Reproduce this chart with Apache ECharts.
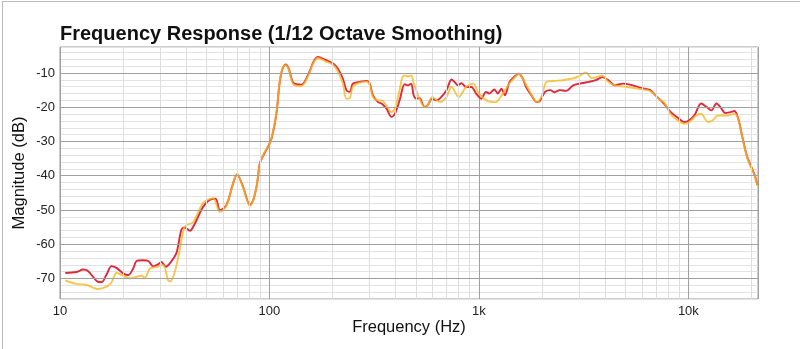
<!DOCTYPE html>
<html>
<head>
<meta charset="utf-8">
<script src="https://cdn.jsdelivr.net/npm/echarts@6/dist/echarts.min.js"></script>
<style>html,body{margin:0;padding:0;background:#fff;}#c{width:800px;height:349px;}</style>
</head>
<body>
<div id="c"></div>
<script>
// ---- data ----
const redFreq = [10.6,12.0,12.9,13.6,15.0,15.8,16.7,17.6,18.6,20.0,21.2,22.4,23.2,24.9,26.4,27.9,29.4,30.5,32.0,34.0,36.0,38.0,39.4,41.7,44.0,48.2,52.8,55.4,58.0,62.3,67.0,70.0,74.9,80.7,83.7,86.9,88.3,89.9,94.5,99.3,102.8,108,111.7,115.5,119.5,123.6,130.1,142,147,155,163,170.6,184,202,212,224,233,242,250,270,291,301,312,330,343,362,382,396,418,442,458,475,488,502,520,550,570,596,625,650,700,740,765,795,825,870,920,970,1025,1080,1120,1185,1230,1280,1330,1400,1480,1550,1620,1680,1780,1890,1950,2070,2190,2300,2430,2610,2820,3030,3350,3610,3880,4130,4460,4880,5260,5770,6220,6580,7090,7640,8240,8870,9570,10100,10700,11500,12200,12900,13600,14200,15000,15900,16600,17300,18100,19100,20600,21400];
const redDb = [-68.4,-68.1,-67.4,-67.8,-70.8,-71.1,-68.8,-66.4,-66.9,-68.5,-69.0,-67.0,-64.9,-64.7,-64.9,-66.5,-65.9,-65.2,-66.6,-65.0,-62.5,-55.7,-55.1,-56.1,-54.0,-49.1,-46.8,-46.7,-50.1,-48.6,-42.3,-39.6,-43.3,-48.6,-47.1,-43.0,-40.0,-36.4,-33.5,-31.1,-28.7,-21.8,-13.1,-8.7,-7.5,-8.7,-12.9,-13.4,-12.6,-9.7,-6.5,-5.3,-6.1,-7.3,-8.7,-11.6,-15.0,-15.5,-13.1,-12.6,-12.3,-13.1,-16.5,-18.5,-18.9,-20.4,-22.8,-22.1,-18.0,-13.3,-13.6,-13.1,-16.5,-17.5,-17.3,-19.9,-19.4,-17.5,-18.0,-17.5,-15.0,-11.9,-12.6,-13.6,-13.0,-14.1,-14.1,-16.0,-17.5,-15.5,-16.0,-14.8,-16.0,-14.6,-16.5,-12.6,-11.0,-10.2,-11.6,-14.1,-16.5,-18.5,-18.2,-15.5,-15.0,-15.6,-15.0,-15.2,-13.6,-13.1,-12.6,-12.1,-11.2,-12.0,-13.6,-13.1,-13.4,-14.1,-14.6,-15.0,-17.0,-18.9,-21.4,-23.0,-24.3,-23.8,-22.3,-18.9,-19.9,-20.9,-18.9,-19.9,-21.7,-21.4,-21.1,-23.3,-28.7,-34.5,-39.4,-42.8];

const yelFreq = [10.6,12.0,13.4,15.2,16.7,17.6,18.6,19.7,21.6,23.2,24.5,25.4,26.9,28.9,31.1,32.8,33.7,35.3,37.3,39.4,43.3,48.2,53.8,58.0,62.3,67.0,70.0,74.9,80.7,83.7,86.9,89.9,94.5,99.3,102.8,108,111.7,115.5,119.5,123.6,130.1,142,147,155,163,170.6,184,202,212,224,233,242,250,270,291,301,312,330,343,362,382,396,418,430,442,458,475,488,502,520,550,570,600,650,700,740,800,870,940,1000,1100,1200,1300,1400,1500,1550,1700,1900,2000,2100,2300,2500,2800,3000,3240,3460,3880,4130,4460,5000,5770,6580,7300,7640,8240,8870,9570,10100,10900,11500,12400,13100,13800,14600,15400,16600,17300,18100,19100,20600,21400];
const yelDb = [-70.6,-71.6,-71.9,-73.1,-72.4,-71.2,-68.4,-69.0,-70.0,-69.5,-69.2,-69.8,-67.1,-66.6,-66.1,-70.5,-70.8,-68.1,-61.7,-54.9,-53.5,-47.9,-46.6,-50.6,-48.8,-42.3,-39.4,-43.5,-48.8,-47.0,-43.0,-36.6,-33.2,-31.3,-28.5,-21.5,-12.8,-8.5,-7.7,-9.0,-13.3,-13.8,-12.9,-10.0,-6.8,-5.6,-6.5,-7.7,-9.5,-13.0,-17.5,-17.3,-14.0,-12.8,-12.5,-13.5,-17.0,-18.0,-18.0,-19.5,-21.4,-20.5,-15.0,-11.5,-10.7,-11.0,-10.7,-13.0,-15.0,-17.5,-19.9,-19.4,-17.0,-18.5,-17.0,-14.0,-17.0,-14.0,-13.1,-16.0,-18.2,-18.5,-16.0,-13.0,-11.0,-10.2,-14.0,-18.5,-16.5,-12.6,-12.3,-12.1,-11.6,-11.0,-9.8,-11.5,-10.7,-12.5,-13.6,-14.0,-14.6,-15.3,-17.8,-18.5,-22.1,-23.8,-24.8,-24.3,-22.4,-21.9,-24.3,-23.8,-22.4,-22.4,-22.4,-21.9,-23.5,-28.9,-34.7,-39.6,-43.0];

const xTickLabels = {10:'10', 100:'100', 1000:'1k', 10000:'10k'};
const gridFreqMinor = [20,30,40,50,60,70,80,90,200,300,400,500,600,700,800,900,2000,3000,4000,5000,6000,7000,8000,9000,20000];
const gridDbMajor = [-70,-60,-50,-40,-30,-20,-10];

const zip = (a,b) => a.map((v,i)=>[v,b[i]]);

const chart = echarts.init(document.getElementById('c'), null, {renderer:'canvas'});
const FONT = '"Liberation Sans", Arial, Helvetica, sans-serif';

const markData = gridFreqMinor.map(v => ({xAxis: v}))
  .concat(gridDbMajor.map(v => ({yAxis: v, lineStyle:{color:'#a0a0a0', width:1, type:'solid'}})));

chart.setOption({
  animation: false,
  backgroundColor: '#fff',
  grid: {left: 60, right: 42, top: 47, bottom: 50, show: true, borderColor: '#9a9a9a', borderWidth: 1, containLabel: false},
  xAxis: {
    type: 'log', logBase: 10, min: 10, max: 21500,
    axisLine: {show: false}, axisTick: {show: false},
    axisLabel: {margin: 6, color: '#222', fontFamily: FONT, fontSize: 13,
      formatter: v => xTickLabels[Math.round(v)] || ''},
    splitLine: {show: true, lineStyle: {color: '#a0a0a0', width: 1}},
    minorSplitLine: {show: false}
  },
  yAxis: {
    type: 'value', min: -76, max: -2.4, interval: 2,
    axisLine: {show: false}, axisTick: {show: false},
    axisLabel: {margin: 5, color: '#222', fontFamily: FONT, fontSize: 13,
      formatter: v => (Math.abs(v % 10) < 1e-6 ? String(v) : '')},
    splitLine: {show: true, lineStyle: {color: '#e2e2e2', width: 1}}
  },
  graphic: [
    {type:'line', shape:{x1:2, y1:1.5, x2:800, y2:1.5}, style:{stroke:'#bbbbbb', lineWidth:1}, silent:true},
    {type:'line', shape:{x1:2.5, y1:1, x2:2.5, y2:349}, style:{stroke:'#bbbbbb', lineWidth:1}, silent:true},
    {type:'text', left: 60, top: 24, style:{text:'Frequency Response (1/12 Octave Smoothing)', font:'bold 20px ' + FONT, fill:'#111'}},
    {type:'text', x: 409, y: 327.5, style:{text:'Frequency (Hz)', font:'16.5px ' + FONT, fill:'#111', textAlign:'center', textVerticalAlign:'middle'}},
    {type:'text', x: 19, y: 173, rotation: Math.PI/2, style:{text:'Magnitude (dB)', font:'16.5px ' + FONT, fill:'#111', textAlign:'center', textVerticalAlign:'middle'}}
  ],
  series: [
    {type:'line', data: [], z: 1, silent: true,
      markLine: {silent: true, symbol: ['none','none'], label:{show:false}, animation:false,
        lineStyle: {color:'#dedede', width:1, type:'solid'}, data: markData}},
    {name:'Red', type:'line', data: zip(redFreq, redDb), showSymbol:false, smooth:0.3, z: 3,
      lineStyle:{color:'#e0283a', width:1.9}, itemStyle:{color:'#e0283a'}},
    {name:'Yellow', type:'line', data: zip(yelFreq, yelDb), showSymbol:false, smooth:0.3, z: 4,
      lineStyle:{color:'#f7b820', width:1.9, opacity:0.8}, itemStyle:{color:'#f7b820'}}
  ]
});
</script>
</body>
</html>
